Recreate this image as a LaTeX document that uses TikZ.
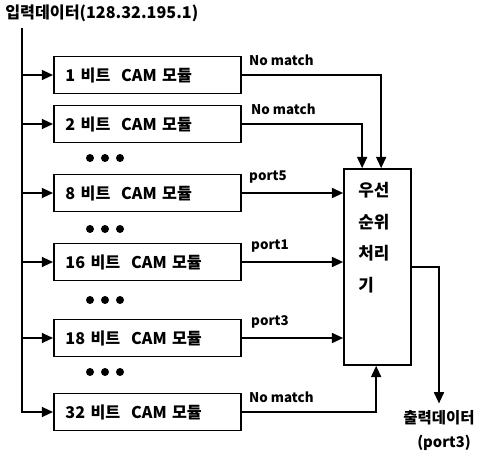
\documentclass[tikz,border=0pt]{standalone}
\usepackage{fontspec}
\setmainfont{Noto Sans CJK KR}
\usetikzlibrary{arrows.meta,positioning,calc}

\begin{document}
\begin{tikzpicture}[
    x=0.025cm, y=-0.025cm,
    font=\fontsize{11.5}{13}\selectfont\bfseries,
    module/.style={rectangle, draw, line width=1.2pt, anchor=west, align=left, text width=4.1cm, inner xsep=0.29cm, minimum height=0.93cm},
    arrow/.style={-{Triangle[length=2.8mm,width=2.5mm]}, line width=1.2pt},
    lbl/.style={anchor=south west, inner sep=0pt, font=\fontsize{9.5}{11}\selectfont\bfseries}
  ]
    \useasboundingbox (0,0) rectangle (488,460);
    \node[anchor=west, inner sep=0pt] (title) at (5,13) {입력데이터(128.32.195.1)};
    \coordinate (bustop) at (22,28);
    % CAM modules
    \node[module] (m1) at (53,75) {1 비트 \ CAM 모듈};
    \node[module] (m2) at (53,124) {2 비트 \ CAM 모듈};
    \node[module] (m8) at (53,193) {8 비트 \ CAM 모듈};
    \node[module] (m16) at (53,262) {16 비트 \ CAM 모듈};
    \node[module] (m18) at (53,338) {18 비트 \ CAM 모듈};
    \node[module] (m32) at (53,412) {32 비트 \ CAM 모듈};
    \foreach \y in {158,229,300,372}
      \foreach \x in {90,105,120}
        \fill (\x,\y) circle (4);
    % priority unit
    \node[rectangle, draw, line width=1.2pt, minimum width=1.675cm, minimum height=4.9cm] (prio) at (377.5,267) {};
    \node[anchor=north west, align=left, inner sep=0pt, font=\fontsize{12}{22.5}\selectfont\bfseries] (priotext) at (358,182) {우선\\순위\\처리\\기};
    % input bus
    \draw[arrow] (bustop) |- (m32.west);
    \foreach \m in {m1,m2,m8,m16,m18}
      \draw[arrow] (\m.west -| bustop) -- (\m.west);
    % outputs
    \draw[arrow] (m1.east) -| ($(prio.north west)+(38,0)$);
    \draw[arrow] (m2.east) -| ($(prio.north west)+(19,0)$);
    \draw[arrow] (m8.east) -- (m8.east -| prio.west);
    \draw[arrow] (m16.east) -- (m16.east -| prio.west);
    \draw[arrow] (m18.east) -- (m18.east -| prio.west);
    \draw[arrow] (m32.east) -| ($(prio.south west)+(33,0)$);
    \node[lbl] at ($(m1.east)+(7,-9)$) {No match};
    \node[lbl] at ($(m2.east)+(9,-9)$) {No match};
    \node[lbl] at ($(m8.east)+(7,-9)$) {port5};
    \node[lbl] at ($(m16.east)+(9,-9)$) {port1};
    \node[lbl] at ($(m18.east)+(9,-9)$) {port3};
    \node[lbl] at ($(m32.east)+(7,-9)$) {No match};
    % result
    \node[inner sep=0pt, font=\fontsize{11}{13}\selectfont\bfseries] (out) at (439,418) {출력데이터};
    \node[inner sep=0pt, font=\fontsize{10.5}{13}\selectfont\bfseries] (outport) at (444,443) {(port3)};
    \draw[arrow] (prio.east) -| ($(out.north)+(0,-7)$);
\end{tikzpicture}
\end{document}
